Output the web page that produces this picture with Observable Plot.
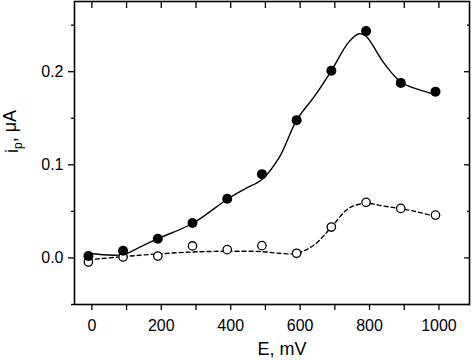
<!DOCTYPE html>
<html>
<head>
<meta charset="utf-8">
<script src="https://cdn.jsdelivr.net/npm/d3@7"></script>
<script src="https://cdn.jsdelivr.net/npm/@observablehq/plot@0.6"></script>
<style>
  html, body { margin: 0; padding: 0; background: #fff; }
  #chart svg { display: block; }
</style>
</head>
<body>
<div id="chart"></div>
<script>
// Measured points
const E = [-10, 90, 190, 290, 390, 490, 590, 690, 790, 890, 990];
const filledI = [0.002, 0.0078, 0.0207, 0.0375, 0.0636, 0.090, 0.148, 0.201, 0.2436, 0.188, 0.1786];
const openI = [-0.0043, 0.001, 0.002, 0.0129, 0.0089, 0.0132, 0.005, 0.0332, 0.0597, 0.0532, 0.046];

// Fitted curves
const fitE_solid = [-10, 90, 140, 190, 290, 390, 440, 490, 540, 590, 640, 690, 740, 770, 790, 840, 890, 940, 990];
const fitI_solid = [0.005, 0.0036, 0.012, 0.0207, 0.037, 0.063, 0.074, 0.0843, 0.108, 0.148, 0.1729, 0.201, 0.2318, 0.2408, 0.238, 0.210, 0.189, 0.181, 0.1755];
const fitE_dash = [-10, 90, 190, 290, 390, 490, 540, 590, 640, 690, 740, 790, 840, 890, 940, 990];
const fitI_dash = [-0.002, 0.0014, 0.0043, 0.0064, 0.0072, 0.0068, 0.005, 0.005, 0.0139, 0.033, 0.0533, 0.0586, 0.0557, 0.0529, 0.0493, 0.0443];

const xTicksMajor = [0, 200, 400, 600, 800, 1000];
const xTicksAll = [0, 100, 200, 300, 400, 500, 600, 700, 800, 900, 1000];
const yTicksMajor = [0.0, 0.1, 0.2];
const yTicksMinor = [-0.05, 0.05, 0.15, 0.25];

const xLabel = "E, mV";
const yLabel = "i";
const yLabelSub = "p";
const yLabelRest = ", \u03BCA";

const pts = E.map((e, i) => ({E: e, f: filledI[i], o: openI[i]}));
const solid = fitE_solid.map((e, i) => ({E: e, I: fitI_solid[i]}));
const dash = fitE_dash.map((e, i) => ({E: e, I: fitI_dash[i]}));

const font = "Liberation Sans, Arial, Helvetica, sans-serif";

const plot = Plot.plot({
  width: 474,
  height: 360,
  marginLeft: 74,
  marginRight: 5,
  marginTop: 1,
  marginBottom: 56,
  style: {fontFamily: font, fontSize: "16px", color: "#000", background: "#fff"},
  x: {domain: [-50, 1088]},
  y: {domain: [-0.05, 0.2754]},
  marks: [
    Plot.frame({stroke: "#000", strokeWidth: 1.6}),
    // bottom axis
    Plot.axisX({anchor: "bottom", ticks: xTicksAll, tickSize: 6, text: null, label: null, strokeWidth: 1.3}),
    Plot.axisX({anchor: "bottom", ticks: xTicksMajor, tickSize: 0, tickPadding: 15, tickFormat: d => String(d), label: null, fontSize: 16}),
    // top axis (inward ticks)
    Plot.axisX({anchor: "top", ticks: xTicksAll, tickSize: -6, text: null, label: null, strokeWidth: 1.3}),
    // left axis
    Plot.axisY({anchor: "left", ticks: yTicksMajor, tickSize: 6, tickPadding: 5, tickFormat: d => d.toFixed(1), label: null, fontSize: 16, strokeWidth: 1.3}),
    Plot.axisY({anchor: "left", ticks: yTicksMinor, tickSize: 3, text: null, label: null, strokeWidth: 1.3}),
    // right axis (inward ticks)
    Plot.axisY({anchor: "right", ticks: yTicksMajor, tickSize: -6, text: null, label: null, strokeWidth: 1.3}),
    Plot.axisY({anchor: "right", ticks: yTicksMinor, tickSize: -3, text: null, label: null, strokeWidth: 1.3}),
    // curves
    Plot.line(solid, {x: "E", y: "I", curve: "catmull-rom", stroke: "#000", strokeWidth: 1.4}),
    Plot.line(dash, {x: "E", y: "I", curve: "catmull-rom", stroke: "#000", strokeWidth: 1.4, strokeDasharray: "4,3"}),
    // points
    Plot.dot(pts, {x: "E", y: "o", r: 4.2, fill: "#fff", stroke: "#000", strokeWidth: 1.3}),
    Plot.dot(pts, {x: "E", y: "f", r: 5, fill: "#000", stroke: "none"}),
    // axis titles
    Plot.text([xLabel], {frameAnchor: "bottom", text: d => d, dy: 50, dx: 10, fontSize: 18, fill: "#000"}),
    Plot.text([yLabel], {frameAnchor: "left", text: d => d, dx: -62, dy: 0, rotate: -90, fontSize: 18, fill: "#000", className: "ylab"})
  ]
});

document.getElementById("chart").appendChild(plot);

// add subscript to y label
const t = d3.select(plot).select("g.ylab text");
if (!t.empty()) {
  t.text(null);
  t.append("tspan").text(yLabel);
  t.append("tspan").attr("dy", "0.3em").attr("font-size", "12px").text(yLabelSub);
  t.append("tspan").attr("dy", "-0.3em").text(yLabelRest);
}
</script>
</body>
</html>
